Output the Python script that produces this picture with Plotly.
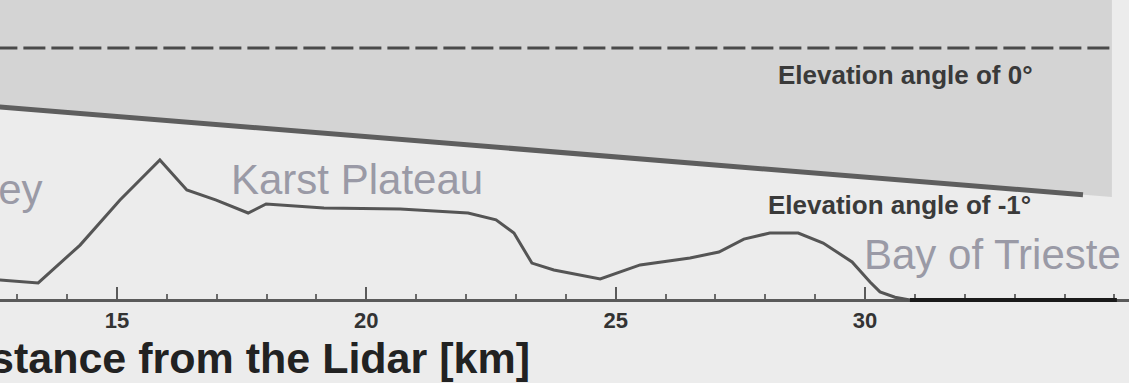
import plotly.graph_objects as go

# ---- data ----
terrain_km = [12.65, 13.42, 14.26, 15.06, 15.86, 16.40, 16.99, 17.63, 17.99, 19.15,
              20.68, 22.04, 22.60, 22.96, 23.32, 23.76, 24.69, 25.49, 26.49, 27.07,
              27.57, 28.09, 28.66, 29.16, 29.74, 30.10, 30.30, 30.60, 30.90]
terrain_m = [87, 74, 238, 433, 607, 477, 433, 377, 416, 399,
             394, 377, 347, 290, 160, 130, 91, 152, 182, 208,
             264, 290, 290, 247, 165, 78, 35, 12, 0]

sea_km = [30.90, 35.05]
sea_m = [0, 0]

zero_angle_km = [12.0, 34.95]
zero_angle_m = [1092, 1092]

neg_angle_km = [12.0, 34.37]
neg_angle_m = [848, 456]

shade_km = [12.0, 34.95, 34.95, 12.0]
shade_m = [1400, 1400, 446, 848]

tick_vals = [15, 20, 25, 30]
tick_text = ["15", "20", "25", "30"]

FONT = "Liberation Sans, Arial, sans-serif"

fig = go.Figure()

fig.add_trace(go.Scatter(x=shade_km, y=shade_m, fill="toself", mode="none",
                         fillcolor="#d4d4d4", hoverinfo="skip", showlegend=False))
fig.add_trace(go.Scatter(x=zero_angle_km, y=zero_angle_m, mode="lines",
                         line=dict(color="#4a4a4a", width=3, dash="22px,6px"),
                         showlegend=False))
fig.add_trace(go.Scatter(x=neg_angle_km, y=neg_angle_m, mode="lines",
                         line=dict(color="#5e5e5e", width=5), showlegend=False))
fig.add_trace(go.Scatter(x=terrain_km, y=terrain_m, mode="lines",
                         line=dict(color="#555555", width=3), showlegend=False))
fig.add_trace(go.Scatter(x=sea_km, y=sea_m, mode="lines",
                         line=dict(color="#1a1a1a", width=4), showlegend=False))

W, H = 1129, 383
plot_bottom = 310  # pixel
y_per_m = 0.2308
ymax = 300 / y_per_m
ymin = -(plot_bottom - 300) / y_per_m

fig.update_layout(
    width=W, height=H,
    margin=dict(l=0, r=0, t=0, b=H - plot_bottom, pad=0),
    paper_bgcolor="#ececec", plot_bgcolor="#ececec",
    xaxis=dict(range=[12.654, 12.654 + W / 49.87], showgrid=False, zeroline=False,
               anchor="free", position=(plot_bottom - 300) / plot_bottom,
               showline=True, linecolor="#5a5a5a", linewidth=3, layer="below traces",
               tickmode="array", tickvals=tick_vals, ticktext=tick_text,
               ticks="inside", ticklen=12, tickwidth=2, tickcolor="#5a5a5a",
               tickfont=dict(family=FONT, size=22, color="#333333", weight="bold"),
               minor=dict(dtick=1, tick0=0, ticks="inside", ticklen=5, tickwidth=2,
                          tickcolor="#6a6a6a", showgrid=False)),
    yaxis=dict(range=[ymin, ymax], visible=False, showgrid=False, zeroline=False),
)

label_font = dict(family=FONT, size=26, color="#3a3a3a", weight="bold")
place_font = dict(family=FONT, size=42, color="#9a9aa6")

fig.add_annotation(x=30.82, y=975, xref="x", yref="y", text="Elevation angle of 0°",
                   showarrow=False, font=label_font, xanchor="center", yanchor="middle")
fig.add_annotation(x=30.70, y=412, xref="x", yref="y", text="Elevation angle of -1°",
                   showarrow=False, font=label_font, xanchor="center", yanchor="middle")
fig.add_annotation(x=19.81, y=520, xref="x", yref="y", text="Karst Plateau",
                   showarrow=False, font=place_font, xanchor="center", yanchor="middle")
fig.add_annotation(x=29.94, y=195, xref="x", yref="y", text="Bay of Trieste",
                   showarrow=False, font=place_font, xanchor="left", yanchor="middle")
fig.add_annotation(x=13.56, y=477, xref="x", yref="y", text="Vipava Valley",
                   showarrow=False, font=place_font, xanchor="right", yanchor="middle")
fig.add_annotation(x=532 / W, y=(plot_bottom - 358) / plot_bottom, xref="paper", yref="paper",
                   text="Distance from the Lidar [km]", showarrow=False,
                   font=dict(family=FONT, size=43, color="#222222", weight="bold"),
                   xanchor="right", yanchor="middle")

fig.write_html("out.html")
